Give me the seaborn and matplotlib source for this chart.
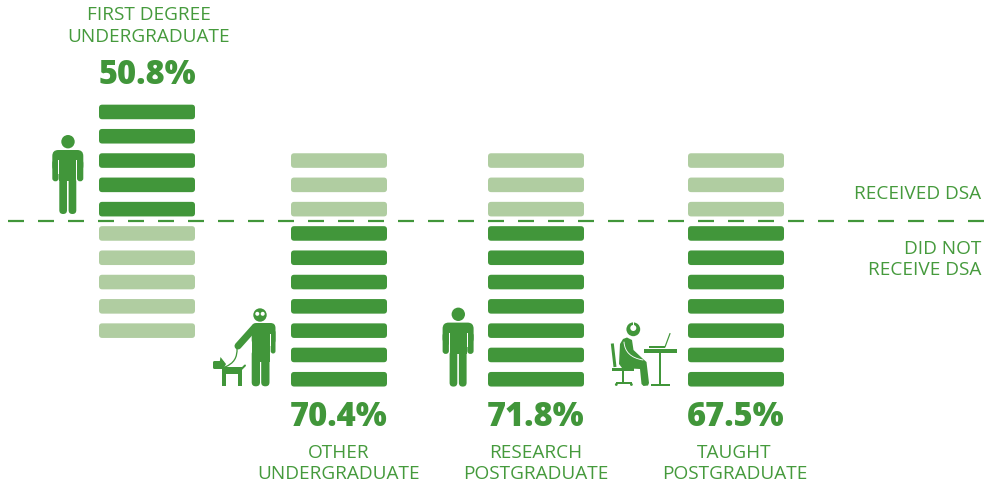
import matplotlib
matplotlib.use("Agg")
import matplotlib.pyplot as plt
import seaborn as sns
from matplotlib.patches import Circle, FancyBboxPatch, Polygon, Rectangle, PathPatch
from matplotlib.path import Path

# Share of each student group, in percent, and the side of the line it sits on
groups = ["First degree undergraduate", "Other undergraduate",
          "Research postgraduate", "Taught postgraduate"]
group_labels = ["FIRST DEGREE\nUNDERGRADUATE", "OTHER\nUNDERGRADUATE",
                "RESEARCH\nPOSTGRADUATE", "TAUGHT\nPOSTGRADUATE"]
stated_pct = [50.8, 70.4, 71.8, 67.5]
stated_side = ["received", "not", "not", "not"]
side_labels = ["RECEIVED DSA", "DID NOT\nRECEIVE DSA"]

SEGMENTS = 10
centres = [147, 339, 536, 736]
label_shift = [0, 0, 0, -1.5]
DARK = "#41963A"
LIGHT = "#B0CDA1"
TEXT = "#459A3C"
W, H = 984, 482
PITCH = 24.3
ZERO_PX = 221.3

sns.set_theme(style="white")
plt.rcParams["font.family"] = ["Open Sans", "DejaVu Sans"]

fig = plt.figure(figsize=(W / 100, H / 100), dpi=100, facecolor="white")
ax = fig.add_axes([0, 0, 1, 1])

# One bar per segment: ten to a column, split by the stated share
for centre, pct, side in zip(centres, stated_pct, stated_side):
    n_stated = round(pct / 100 * SEGMENTS)
    n_above = n_stated if side == "received" else SEGMENTS - n_stated
    n_below = SEGMENTS - n_above
    above_colour, below_colour = (DARK, LIGHT) if side == "received" else (LIGHT, DARK)
    for k in range(n_above):
        sns.barplot(x=[centre], y=[0.6], bottom=k + 0.2, native_scale=True,
                    width=96, color=above_colour, saturation=1, ax=ax)
    for k in range(n_below):
        sns.barplot(x=[centre], y=[0.6], bottom=-k - 0.8, native_scale=True,
                    width=96, color=below_colour, saturation=1, ax=ax)

# Round the segment corners
for bar in list(ax.patches):
    x0, y0, bw, bh = bar.get_x(), bar.get_y(), bar.get_width(), bar.get_height()
    colour = bar.get_facecolor()
    bar.remove()
    ax.add_patch(FancyBboxPatch((x0, y0), bw, bh, boxstyle="round,pad=0,rounding_size=3.2",
                                mutation_aspect=1 / PITCH, fc=colour, ec="none"))

ax.set_xlim(0, W)
ax.set_ylim(-(H - ZERO_PX) / PITCH, ZERO_PX / PITCH)
ax.axis("off")

# Dashed divider between the two outcomes
ax.plot([8, W], [0, 0], color=DARK, lw=1.6, dashes=(7.2, 6.3), dash_capstyle="butt")

# Overlay in pixel units for the pictograms and text
ov = fig.add_axes([0, 0, 1, 1], facecolor="none")
ov.set_xlim(0, W)
ov.set_ylim(H, 0)
ov.axis("off")


def rrect(x0, y0, x1, y1, r, colour=DARK):
    ov.add_patch(FancyBboxPatch((x0, y0), x1 - x0, y1 - y0,
                                boxstyle=f"round,pad=0,rounding_size={r}", fc=colour, ec="none"))


def rect(x0, y0, x1, y1, colour=DARK):
    ov.add_patch(Rectangle((x0, y0), x1 - x0, y1 - y0, fc=colour, ec="none"))


def line(pts, lw, colour=DARK, cap="round"):
    ov.plot(*zip(*pts), color=colour, lw=lw * 0.72, solid_capstyle=cap, solid_joinstyle="round")


def curve(pts, codes, lw, colour=DARK):
    ov.add_patch(PathPatch(Path(pts, codes), fc="none", ec=colour, lw=lw * 0.72, capstyle="round"))


def standing_person(dx, dy):
    ov.add_patch(Circle((68 + dx, 141.7 + dy), 6.7, fc=DARK, ec="none"))
    rrect(52.3 + dx, 150 + dy, 83.3 + dx, 172 + dy, 6)
    rrect(52.3 + dx, 160 + dy, 58.6 + dx, 181.3 + dy, 3)
    rrect(77 + dx, 160 + dy, 83.3 + dx, 181.3 + dy, 3)
    rrect(59.3 + dx, 178 + dy, 67 + dx, 214 + dy, 3.8)
    rrect(68.6 + dx, 178 + dy, 76.3 + dx, 214 + dy, 3.8)
    rect(59.3 + dx, 160 + dy, 76.3 + dx, 181 + dy)
    rect(58.4 + dx, 160 + dy, 59.3 + dx, 174 + dy, "white")
    rect(76.3 + dx, 160 + dy, 77.2 + dx, 174 + dy, "white")


def guide_dog_person():
    ov.add_patch(Circle((260, 315), 6.7, fc=DARK, ec="none"))
    ov.add_patch(Circle((257.3, 313.8), 2.0, fc="white", ec="none"))
    ov.add_patch(Circle((262.7, 313.8), 2.0, fc="white", ec="none"))
    rrect(251.7, 323, 275.5, 345, 5)
    rect(251.7, 335, 269.5, 362)
    rrect(270.7, 330, 275.5, 353.5, 2.4)
    rect(269.5, 334, 270.7, 346, "white")
    rrect(251.7, 350, 260, 386.3, 4)
    rrect(261.2, 350, 269.5, 386.3, 4)
    line([(255, 327), (238, 346)], 7)
    curve([(237, 348), (238, 362), (225, 367)],
          [Path.MOVETO, Path.CURVE3, Path.CURVE3], 1.3)
    # Dog
    rect(221.7, 367, 241.7, 373.5)
    rect(221.7, 370, 225.6, 386)
    rect(237.8, 370, 241.7, 386)
    rrect(213, 361, 224, 369, 1.5)
    ov.add_patch(Polygon([(219.5, 363), (220.5, 357), (226, 364), (224, 368)], fc=DARK, ec="none"))
    line([(241, 369.5), (245, 365.5)], 2)


def seated_person():
    ov.add_patch(Circle((633.3, 329.3), 6.9, fc=DARK, ec="none"))
    ov.add_patch(Circle((633.3, 328), 3.0, fc="white", ec="none"))
    rect(632.6, 322, 634, 327, "white")
    ov.add_patch(Polygon([(620, 344), (623, 339), (627, 337.5), (632, 340), (633.5, 350),
                          (642, 358), (646.5, 362), (649, 383), (648, 385.5), (643.5, 386),
                          (641.5, 384), (640, 369), (622, 368), (619, 364)],
                         fc=DARK, ec="none"))
    curve([(624, 342), (625, 357), (643, 360)],
          [Path.MOVETO, Path.CURVE3, Path.CURVE3], 0.9, "white")
    line([(612.3, 343.5), (615, 367)], 3, cap="butt")
    rect(612, 368.2, 634, 371.4)
    rect(622.3, 371, 624.3, 383)
    rect(616, 382, 631.7, 383.6)
    ov.add_patch(Circle((616.3, 384.5), 1.4, fc=DARK, ec="none"))
    ov.add_patch(Circle((631.4, 384.5), 1.4, fc=DARK, ec="none"))
    rect(644, 349, 676.7, 353)
    rect(658.7, 353, 661.3, 385)
    rect(650.7, 384, 670, 386)
    rect(649, 346, 665, 348)
    line([(665, 347), (670, 333.5)], 1.2)


standing_person(0, 0)
standing_person(390.3, 172.6)
guide_dog_person()
seated_person()

LABEL_SIZE = 13.7
VALUE_SIZE = 23.5

value_style = dict(ha="center", va="center", color=DARK, fontsize=VALUE_SIZE, fontweight=800)

# Group names and stated values
ov.text(149, 26, group_labels[0], ha="center", va="center", color=TEXT,
        fontsize=LABEL_SIZE, linespacing=1.22)
ov.text(centres[0], 75, f"{stated_pct[0]}%", **value_style)
for centre, shift, name, pct in zip(centres[1:], label_shift[1:], group_labels[1:], stated_pct[1:]):
    ov.text(centre, 416.5, f"{pct}%", **value_style)
    ov.text(centre + shift, 463.5, name, ha="center", va="center", color=TEXT,
            fontsize=LABEL_SIZE, linespacing=1.22)

# Side labels at the right edge
ov.text(981, 194, side_labels[0], ha="right", va="center", color=TEXT, fontsize=LABEL_SIZE)
ov.text(981, 259.5, side_labels[1], ha="right", va="center", color=TEXT,
        fontsize=LABEL_SIZE, linespacing=1.22, multialignment="right")

fig.savefig("out.png", dpi=100, facecolor="white")
